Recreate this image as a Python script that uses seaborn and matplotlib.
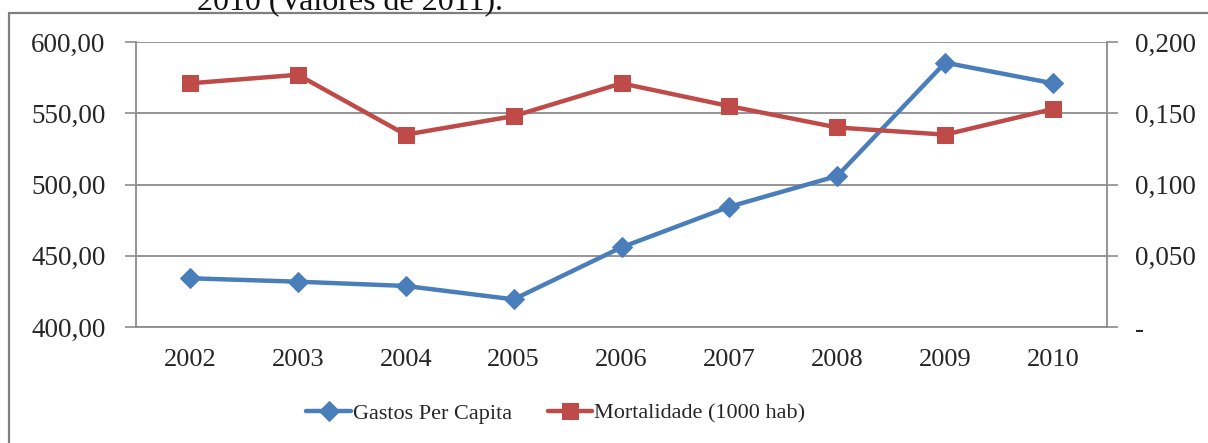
import numpy as np
import pandas as pd
import matplotlib
matplotlib.use('Agg')
import matplotlib.pyplot as plt
import matplotlib.patches as mpatches
from matplotlib.ticker import FixedLocator, FuncFormatter
import seaborn as sns

YEARS = ['2002', '2003', '2004', '2005', '2006', '2007', '2008', '2009', '2010']
gastos = [434.2, 431.8, 428.8, 419.4, 455.9, 484.4, 506.0, 585.5, 571.0]
mortalidade = [0.171, 0.177, 0.135, 0.148, 0.171, 0.155, 0.140, 0.135, 0.153]

BLUE = '#4A7EBB'
RED = '#BE4B48'
GRID = '#8C8C8C'

sns.set_style('white')
plt.rcParams['font.family'] = ['Liberation Serif', 'DejaVu Serif']

df = pd.DataFrame({'ano': YEARS, 'gastos': gastos, 'mort': mortalidade})

fig = plt.figure(figsize=(12.08, 4.43), dpi=100)
ax = fig.add_axes([136/1208, 116/443, (1107-136)/1208, (327-42)/443])
ax2 = ax.twinx()

sns.lineplot(data=df, x='ano', y='gastos', ax=ax, color=BLUE, lw=3.2,
             marker='D', markersize=10, markeredgecolor=BLUE, sort=False,
             label='Gastos Per Capita', legend=False, zorder=3)
sns.lineplot(data=df, x='ano', y='mort', ax=ax2, color=RED, lw=3.2,
             marker='s', markersize=12, markeredgecolor=RED, sort=False,
             label='Mortalidade (1000 hab)', legend=False, zorder=3)

ax.set_xlim(-0.5, len(YEARS) - 0.5)
ax.set_ylim(400, 600)
ax2.set_ylim(0, 0.2)
ax.set_yticks([400, 450, 500, 550, 600])
ax2.set_yticks([0, 0.05, 0.1, 0.15, 0.2])
ax.yaxis.set_major_formatter(FuncFormatter(lambda v, p: f'{v:.2f}'.replace('.', ',')))
ax2.yaxis.set_major_formatter(FuncFormatter(
    lambda v, p: '-' if abs(v) < 1e-9 else f'{v:.3f}'.replace('.', ',')))

ax.grid(axis='y', color=GRID, lw=1.3)
ax.set_axisbelow(True)
ax.set_xlabel('')
ax.set_ylabel('')
ax2.set_ylabel('')

ax.xaxis.set_minor_locator(FixedLocator(np.arange(-0.5, len(YEARS), 1.0)))
ax.tick_params(axis='x', which='major', length=0, pad=16, labelsize=19)
ax.tick_params(axis='x', which='minor', length=8, width=1.2, color=GRID, direction='out')
ax.tick_params(axis='y', length=8, width=1.2, color=GRID, direction='out', pad=14, labelsize=19.5)
ax2.tick_params(axis='y', length=8, width=1.2, color=GRID, direction='out', pad=12, labelsize=19.5)

for a in (ax, ax2):
    for s in a.spines.values():
        s.set_color(GRID)
        s.set_linewidth(1.3)
    a.spines['top'].set_visible(False)
ax.spines['right'].set_visible(False)
ax2.spines['left'].set_visible(False)
ax2.spines['bottom'].set_visible(False)

h1, l1 = ax.get_legend_handles_labels()
h2, l2 = ax2.get_legend_handles_labels()
fig.legend(h1 + h2, l1 + l2, loc='center', bbox_to_anchor=(556/1208, 0.067),
           ncol=2, frameon=False, fontsize=16, handlelength=2.0,
           handletextpad=0.1, columnspacing=1.6)

# chart frame, cut off at right and bottom as in the source page
fig.patches.append(mpatches.Rectangle((9/1208, -0.1), 1.2, 1.1 - 13/443,
                                      transform=fig.transFigure, fill=False,
                                      edgecolor='#7F7F7F', lw=1.6))
fig.text(197/1208, 1 - 10/443, '2010 (Valores de 2011).', fontsize=23,
         ha='left', va='baseline', color='#111111')

fig.savefig('out.png', dpi=100)
